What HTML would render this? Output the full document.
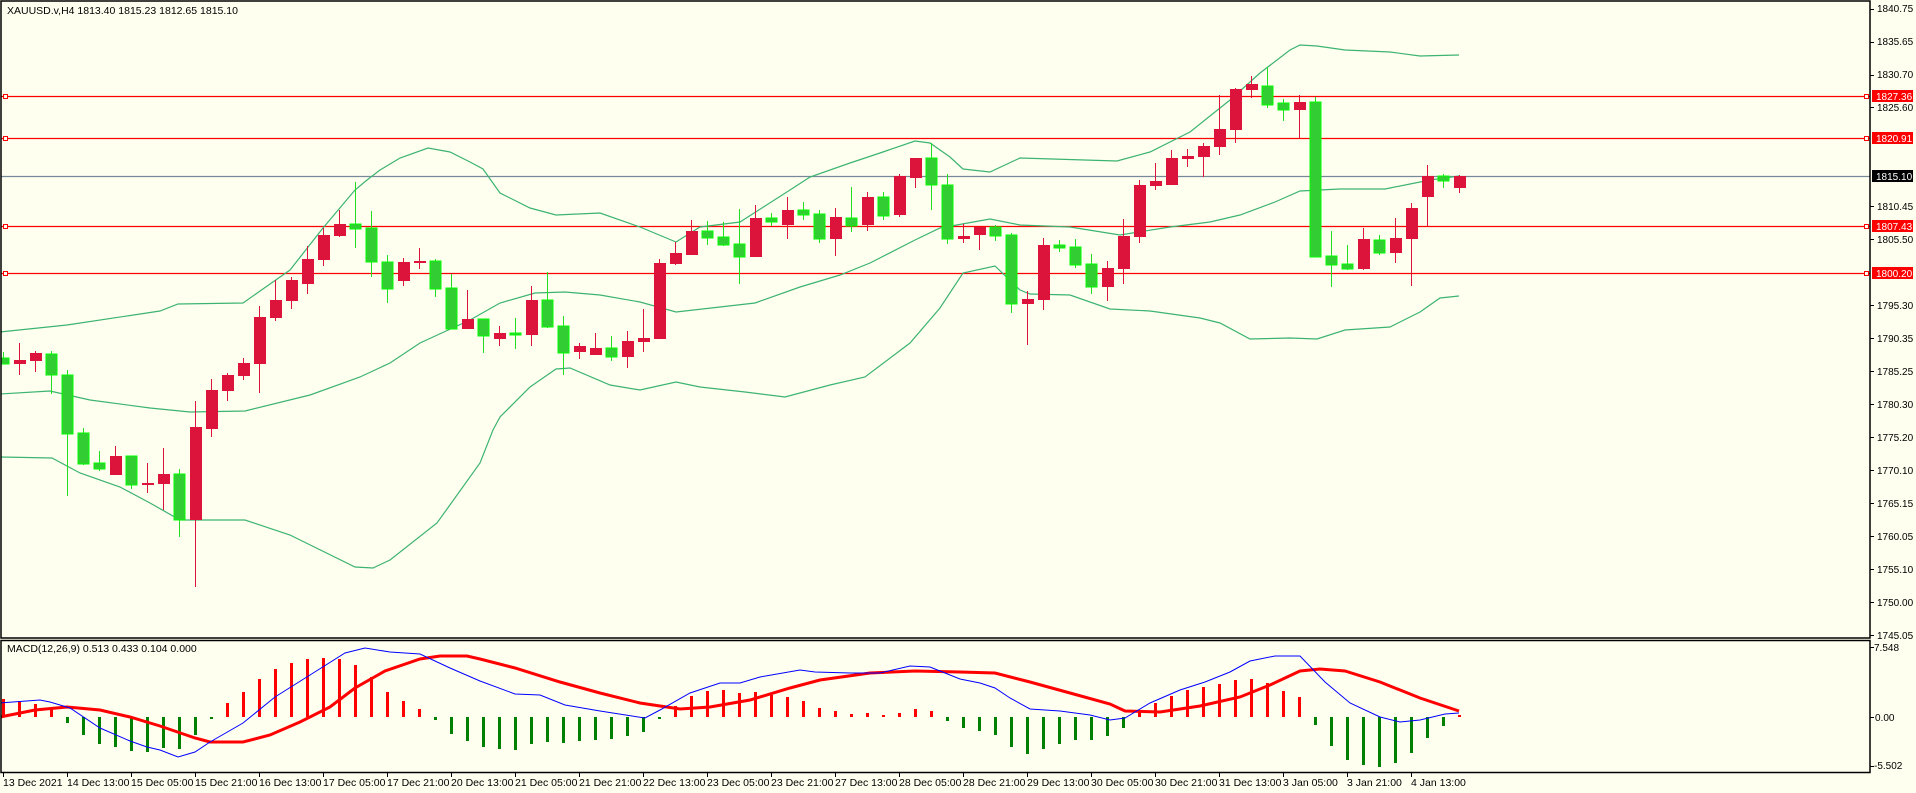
<!DOCTYPE html>
<html><head><meta charset="utf-8"><style>
html,body{margin:0;padding:0;background:#fffff0;}
svg{display:block;font-family:"Liberation Sans",sans-serif;}
</style></head><body>
<svg id="s" width="1916" height="793" viewBox="0 0 1916 793" xmlns="http://www.w3.org/2000/svg">
<rect x="0" y="0" width="1916" height="793" fill="#fffff0"/>
<defs><clipPath id="cm"><rect x="1" y="1" width="1869" height="637"/></clipPath><clipPath id="cd"><rect x="1" y="641" width="1869" height="131"/></clipPath></defs>
<g id="main" clip-path="url(#cm)"></g>
<g id="macd" clip-path="url(#cd)"></g>
<rect x="1" y="1" width="1869" height="637" fill="none" stroke="#000" stroke-width="1.5"/>
<rect x="1" y="640.5" width="1869" height="132" fill="none" stroke="#000" stroke-width="1.5"/>
<text x="7" y="14" font-size="10.5" fill="#000">XAUUSD.v,H4  1813.40 1815.23 1812.65 1815.10</text>
<text x="7" y="652" font-size="10.5" fill="#000">MACD(12,26,9) 0.513 0.433 0.104 0.000</text>
<g font-size="10" fill="#000" id="yax">
<text x="1877" y="12">1840.75</text>
<text x="1877" y="45">1835.65</text>
<text x="1877" y="78">1830.70</text>
<text x="1877" y="111">1825.60</text>
<text x="1877" y="210">1810.45</text>
<text x="1877" y="243">1805.50</text>
<text x="1877" y="309">1795.30</text>
<text x="1877" y="342">1790.35</text>
<text x="1877" y="375">1785.25</text>
<text x="1877" y="408">1780.30</text>
<text x="1877" y="441">1775.20</text>
<text x="1877" y="474">1770.10</text>
<text x="1877" y="507">1765.15</text>
<text x="1877" y="540">1760.05</text>
<text x="1877" y="573">1755.10</text>
<text x="1877" y="606">1750.00</text>
<text x="1877" y="639">1745.05</text>
<text x="1874" y="651">7.548</text>
<text x="1875" y="721">0.00</text>
<text x="1874" y="769">-5.502</text>
</g>
<g id="lbl">
<rect x="1872" y="90" width="41" height="12" fill="#ff0000"/><text x="1876" y="100" font-size="10" fill="#fff">1827.36</text>
<rect x="1872" y="132" width="41" height="12" fill="#ff0000"/><text x="1876" y="142" font-size="10" fill="#fff">1820.91</text>
<rect x="1872" y="170" width="41" height="12" fill="#000"/><text x="1876" y="180" font-size="10" fill="#fff">1815.10</text>
<rect x="1872" y="220" width="41" height="12" fill="#ff0000"/><text x="1876" y="230" font-size="10" fill="#fff">1807.43</text>
<rect x="1872" y="267" width="41" height="12" fill="#ff0000"/><text x="1876" y="277" font-size="10" fill="#fff">1800.20</text>
</g>
<g font-size="10.5" fill="#000">
<text x="3" y="786">13 Dec 2021</text>
<text x="67" y="786">14 Dec 13:00</text>
<text x="131" y="786">15 Dec 05:00</text>
<text x="195" y="786">15 Dec 21:00</text>
<text x="259" y="786">16 Dec 13:00</text>
<text x="323" y="786">17 Dec 05:00</text>
<text x="387" y="786">17 Dec 21:00</text>
<text x="451" y="786">20 Dec 13:00</text>
<text x="515" y="786">21 Dec 05:00</text>
<text x="579" y="786">21 Dec 21:00</text>
<text x="643" y="786">22 Dec 13:00</text>
<text x="707" y="786">23 Dec 05:00</text>
<text x="771" y="786">23 Dec 21:00</text>
<text x="835" y="786">27 Dec 13:00</text>
<text x="899" y="786">28 Dec 05:00</text>
<text x="963" y="786">28 Dec 21:00</text>
<text x="1027" y="786">29 Dec 13:00</text>
<text x="1091" y="786">30 Dec 05:00</text>
<text x="1155" y="786">30 Dec 21:00</text>
<text x="1219" y="786">31 Dec 13:00</text>
<text x="1283" y="786">3 Jan 05:00</text>
<text x="1347" y="786">3 Jan 21:00</text>
<text x="1411" y="786">4 Jan 13:00</text>
</g>
<g id="ticks" stroke="#000" stroke-width="1"></g>
</svg>
<script>
var NS="http://www.w3.org/2000/svg";
function el(p,t,a){var e=document.createElementNS(NS,t);for(var k in a)e.setAttribute(k,a[k]);p.appendChild(e);return e;}
var M=document.getElementById('main'),D=document.getElementById('macd'),T=document.getElementById('ticks');
// horizontal lines
[[96,'#ff0000'],[138,'#ff0000'],[226,'#ff0000'],[273,'#ff0000']].forEach(function(h){
 el(M,'line',{x1:0,x2:1870,y1:h[0]+.5,y2:h[0]+.5,stroke:h[1],'stroke-width':1.3});
 el(M,'rect',{x:3.5,y:h[0]-1.5,width:4,height:4,fill:'#fffff0',stroke:'#ff0000','stroke-width':1});
 el(M,'rect',{x:1864.5,y:h[0]-1.5,width:4,height:4,fill:'#fffff0',stroke:'#ff0000','stroke-width':1});
});
el(M,'line',{x1:0,x2:1870,y1:176.5,y2:176.5,stroke:'#778899','stroke-width':1.3});
// bollinger
var up="0,332 67,325 160,311 178,304 243,303 290,270 323,228 355,190 367,180 380,170 400,158 428,148 450,152 470,162 483,169 500,193 530,208 556,215 600,213 640,227 676,242 700,227 740,222 790,190 810,177 850,163 880,153 915,141 930,143 950,157 963,169 990,172 1020,158 1117,161 1150,152 1190,132 1230,100 1260,73 1290,50 1300,45 1317,46 1345,50 1390,52 1420,56 1459,55";
var mid="0,394 50,391 90,400 150,408 190,412 245,411 310,395 360,377 390,363 420,343 470,320 500,303 535,293 565,292 600,295 640,302 676,312 720,307 755,303 800,287 840,275 870,263 915,240 940,228 990,219 1020,225 1070,227 1120,235 1170,227 1210,222 1240,215 1275,202 1300,191 1340,189 1385,189 1430,180 1459,176";
var lo="0,457 52,458 80,473 120,487 150,503 180,520 245,520 290,535 355,567 373,568 390,560 437,523 480,463 493,430 500,417 530,387 556,369 570,368 610,385 640,390 676,382 700,387 745,392 785,397 830,385 865,377 910,343 940,308 963,273 995,266 1020,290 1030,294 1070,295 1110,309 1150,311 1200,318 1220,323 1250,339 1290,338 1317,339 1345,330 1390,327 1420,312 1440,298 1459,296";
[up,mid,lo].forEach(function(p){el(M,'polyline',{points:p,fill:'none',stroke:'#3cb371','stroke-width':1.2});});
// candles
var C=[
"g 358 364 352 364","r 360 364 343 375","r 353 361 351 372","g 354 375 351 394","g 375 434 370 496","g 433 464 428 465","g 463 469 451 471","r 456 475 446 475","g 456 485 456 489","r 483 485 463 493",
"r 474 484 448 510","g 474 520 469 537","r 427 520 401 587","r 390 429 379 437","r 375 391 373 401","r 363 376 358 380","r 317 364 306 393","r 300 318 280 321","r 280 301 277 309","r 259 284 246 294",
"r 235 260 228 266","r 224 236 210 237","g 224 229 182 248","g 228 262 211 277","g 262 289 255 303","r 262 281 258 286","r 261 263 248 269","g 261 289 259 297","g 288 329 274 329","r 319 329 290 329",
"g 319 336 319 353","r 333 339 326 346","g 333 335 318 349","r 300 335 286 346","g 300 327 272 328","g 326 353 316 375","r 346 352 343 359","r 348 355 333 355","g 348 357 336 361","r 341 357 331 368",
"r 338 342 309 352","r 263 339 259 339","r 253 264 242 265","r 231 255 220 255","g 231 238 221 245","g 237 245 222 246","g 244 257 209 284","r 218 257 205 257","g 218 222 213 226","r 210 225 197 239",
"g 210 215 202 220","g 214 239 210 243","r 217 239 208 256","g 218 226 187 232","r 197 225 192 231","g 197 216 192 220","r 176 215 174 217","r 158 178 158 188","g 158 185 143 210","g 185 239 174 244",
"r 236 239 224 243","r 227 235 227 250","g 227 236 225 241","g 235 304 233 313","r 299 304 291 345","r 245 300 238 310","g 245 248 240 252","g 247 265 239 268","g 264 287 254 294","r 268 287 261 301",
"r 236 269 219 284","r 185 237 180 243","r 181 186 163 190","r 158 185 150 185","r 156 159 149 167","r 146 157 143 177","r 129 147 95 155","r 89 130 88 143","r 84 90 76 98","g 86 105 67 108",
"g 103 110 99 121","r 102 110 95 138","g 102 257 97 257","g 256 265 231 287","g 264 269 245 270","r 239 269 228 270","g 240 253 235 255","r 238 253 218 263","r 208 239 203 286","r 176 197 165 226",
"g 176 181 174 188","r 176 188 175 193"];
C.forEach(function(s,i){var a=s.split(' '),x=3+16*i,bt=+a[1],bb=+a[2],wt=+a[3],wb=+a[4],g=a[0]=='g';
 el(M,'line',{x1:x+.5,x2:x+.5,y1:wt,y2:wb,stroke:g?'#22dd22':'#dc143c','stroke-width':1});
 if(g) el(M,'rect',{x:x-5,y:bt,width:11,height:Math.max(bb-bt,1),fill:'#32cd32',stroke:'#00ff00','stroke-width':1});
 else el(M,'rect',{x:x-5,y:bt,width:12,height:Math.max(bb-bt,2),fill:'#dc143c'});
});
// histogram
var H=[699,702,704,708,723,735,744,747,751,752,748,749,735,719,703,692,679,669,663,659,658,659,665,677,692,701,709,720,734,741,747,749,750,744,742,743,741,740,739,736,732,719,706,696,691,690,693,692,695,697,701,708,711,714,713,715,713,709,711,721,728,731,735,747,754,749,744,740,740,736,728,711,703,696,690,687,684,680,679,683,691,697,725,746,760,765,767,763,753,738,726,715];
H.forEach(function(v,i){var x=3+16*i+.5;var pos=v<717;el(D,'line',{x1:x,x2:x,y1:717,y2:v,stroke:pos?'#ff0000':'#008000','stroke-width':3});});
var sig="0,717 35,710 67,707 100,710 130,717 160,726 195,738 210,742 243,742 270,735 300,722 330,707 355,688 385,671 420,659 440,656 467,656 480,659 515,668 560,682 600,693 640,703 680,709 710,707 750,700 790,688 820,680 870,673 915,671 960,672 995,673 1030,682 1070,693 1110,704 1125,711 1160,712 1200,706 1240,697 1270,685 1300,671 1320,669 1345,671 1380,682 1420,698 1459,711";
var mac="0,703 40,700 50,702 70,708 100,728 130,741 147,747 160,750 178,757 195,752 210,742 243,723 275,697 310,675 345,653 365,648 390,652 420,654 450,668 480,681 515,694 540,695 565,705 600,711 645,718 660,710 690,693 720,683 740,683 760,677 800,670 815,672 850,673 880,673 910,666 930,667 960,679 980,683 995,688 1010,698 1030,709 1060,711 1090,715 1110,720 1125,718 1150,703 1180,690 1205,682 1230,672 1250,661 1275,656 1300,656 1325,682 1350,703 1380,717 1400,722 1420,720 1445,714 1459,713";
el(D,'polyline',{points:sig,fill:'none',stroke:'#ff0000','stroke-width':3});
el(D,'polyline',{points:mac,fill:'none',stroke:'#0000ff','stroke-width':1});
// ticks
for(var k=0;k<23;k++){var x=3+64*k+.5;el(T,'line',{x1:x,x2:x,y1:773,y2:777});}
[9,42,75,107,206,239,305,338,371,404,437,470,503,536,569,602,635,647,717,766].forEach(function(y){el(T,'line',{x1:1870,x2:1874,y1:y+.5,y2:y+.5});});
</script>
</body></html>
